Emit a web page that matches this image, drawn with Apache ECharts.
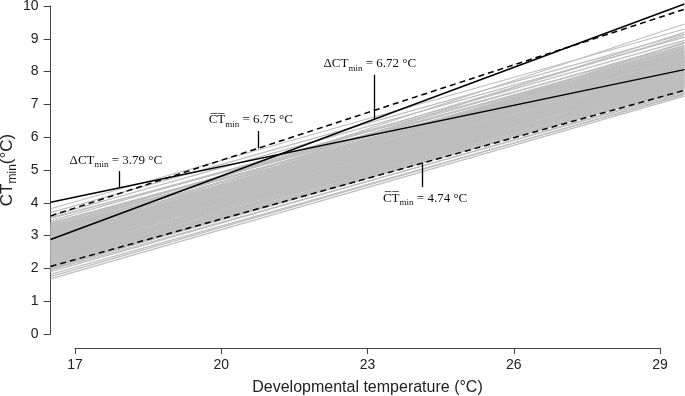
<!DOCTYPE html>
<html>
<head>
<meta charset="utf-8">
<script src="https://cdn.jsdelivr.net/npm/echarts/dist/echarts.min.js"></script>
<style>
  html, body { margin: 0; padding: 0; background: #fff; }
  #chart { width: 685px; height: 396px; }
</style>
</head>
<body>
<div id="chart"></div>
<script>
// x positions where every reaction norm is evaluated (plot edges)
const xEnds = [16.5, 29.5]

// grey lines: CTmin at left edge / right edge
const grayStart = [
  1.68, 1.75, 1.82, 1.90, 1.95, 2.00, 2.04, 2.08, 2.12, 2.15,
  2.18, 2.22, 2.25, 2.28, 2.30, 2.33, 2.36, 2.38, 2.41, 2.44,
  2.46, 2.49, 2.52, 2.54, 2.57, 2.60, 2.62, 2.65, 2.67, 2.70,
  2.72, 2.75, 2.78, 2.80, 2.83, 2.86, 2.88, 2.91, 2.94, 2.97,
  3.00, 3.03, 3.06, 3.10, 3.14, 3.18, 3.22, 3.27, 3.32, 3.38,
  3.45, 3.52, 3.60, 3.70, 3.82, 3.05, 2.95, 2.40, 2.20, 2.60,
  3.25, 2.10, 2.55, 2.75, 3.15, 2.35, 3.40, 1.98, 2.85, 3.55,
  2.02, 2.06, 2.11, 2.14, 2.19, 2.23, 2.27, 2.31, 2.34, 2.39,
  2.43, 2.47, 2.50, 2.53, 2.58, 2.61, 2.64, 2.68, 2.71, 2.74,
  2.77, 2.81, 2.84, 2.87, 2.90, 2.93, 2.96, 2.99, 3.02, 3.08,
  3.12, 3.17, 3.20, 3.24, 3.29, 3.34, 2.26, 2.48, 2.66, 2.82,
  3.01, 2.13, 2.37, 2.59, 2.79, 2.92, 3.11, 2.44, 2.69, 3.21
]
const grayEnd = [
  7.25, 7.32, 7.30, 7.40, 7.36, 7.48, 7.55, 7.45, 7.60, 7.52,
  7.66, 7.58, 7.72, 7.64, 7.80, 7.70, 7.86, 7.62, 7.92, 7.76,
  7.98, 7.84, 8.04, 7.90, 8.10, 7.95, 8.16, 8.02, 8.22, 8.08,
  8.28, 8.12, 8.34, 8.18, 8.40, 8.24, 8.46, 8.30, 8.52, 8.36,
  8.58, 8.42, 8.64, 8.48, 8.70, 8.55, 8.78, 8.62, 8.86, 8.70,
  8.95, 8.80, 9.05, 9.15, 9.30, 9.45, 9.20, 8.50, 8.30, 8.90,
  9.10, 7.95, 7.60, 7.80, 8.20, 7.42, 8.40, 7.70, 8.75, 8.60,
  7.50, 7.57, 7.53, 7.68, 7.61, 7.74, 7.67, 7.83, 7.73, 7.89,
  7.80, 7.95, 7.87, 8.00, 7.93, 8.07, 7.99, 8.13, 8.05, 8.19,
  8.11, 8.25, 8.17, 8.31, 8.22, 8.37, 8.28, 8.43, 8.34, 8.50,
  8.45, 8.60, 8.52, 8.67, 8.58, 8.74, 7.97, 8.15, 8.35, 8.56,
  8.20, 7.78, 8.05, 8.28, 8.47, 8.62, 8.33, 7.70, 7.88, 8.44
]

// highlighted lines (left edge, right edge)
const deltaLow = [4.02, 8.06]   // ΔCTmin = 3.79
const deltaHigh = [2.88, 10.06] // ΔCTmin = 6.72
const meanHigh = [3.60, 9.90]   // mean CTmin = 6.75
const meanLow = [2.06, 7.43]    // mean CTmin = 4.74

const annoValues = ['3.79', '6.72', '6.75', '4.74']

const serif = 'Liberation Serif'
const rich = {
  t: { fontFamily: serif, fontSize: 13, color: '#111', lineHeight: 18 },
  s: { fontFamily: serif, fontSize: 9, color: '#111', lineHeight: 18, verticalAlign: 'bottom' }
}
const OVER_CT = 'C\u0305T\u0305'

function pts(arr) {
  return [[xEnds[0], arr[0]], [xEnds[1], arr[1]]]
}
function lineAt(arr, x) {
  return arr[0] + (arr[1] - arr[0]) * (x - xEnds[0]) / (xEnds[1] - xEnds[0])
}
function leader(arr, x, len, text, padding) {
  const y0 = lineAt(arr, x)
  return {
    silent: true,
    symbol: 'none',
    animation: false,
    lineStyle: { color: '#000', width: 1.3, type: 'solid' },
    emphasis: { disabled: true },
    label: {
      show: true,
      position: 'end',
      distance: 2,
      padding: padding,
      formatter: text,
      rich: rich
    },
    data: [[{ coord: [x, y0] }, { coord: [x, y0 + len] }]]
  }
}

const series = []
for (let i = 0; i < grayStart.length; i++) {
  series.push({
    type: 'line',
    data: pts([grayStart[i], grayEnd[i]]),
    symbol: 'none',
    silent: true,
    animation: false,
    lineStyle: { color: '#bebebe', width: 1.2 }
  })
}

const blackLine = { type: 'line', symbol: 'none', silent: true, animation: false, clip: false }

series.push(Object.assign({}, blackLine, {
  data: pts(meanHigh),
  lineStyle: { color: '#000', width: 1.5, type: [6, 4] },
  markLine: leader(meanHigh, 20.75, 0.53,
    '{t|' + OVER_CT + '}{s|min}{t| = ' + annoValues[2] + ' °C}', [0, 14, 0, 0])
}))
series.push(Object.assign({}, blackLine, {
  data: pts(meanLow),
  lineStyle: { color: '#000', width: 1.5, type: [6, 4] },
  markLine: leader(meanLow, 24.12, -0.73,
    '{t|' + OVER_CT + '}{s|min}{t| = ' + annoValues[3] + ' °C}', [0, 0, 0, 6])
}))
series.push(Object.assign({}, blackLine, {
  data: pts(deltaLow),
  lineStyle: { color: '#000', width: 1.5 },
  markLine: leader(deltaLow, 17.9, 0.51,
    '{t|ΔCT}{s|min}{t| = ' + annoValues[0] + ' °C}', [0, 6, 0, 0])
}))
series.push(Object.assign({}, blackLine, {
  data: pts(deltaHigh),
  lineStyle: { color: '#000', width: 1.5 },
  markLine: leader(deltaHigh, 23.13, 1.36,
    '{t|ΔCT}{s|min}{t| = ' + annoValues[1] + ' °C}', [0, 8, 0, 0])
}))

const axisColor = '#444'
const labelFont = { fontFamily: 'Liberation Sans', fontSize: 14, color: '#222' }

const chart = echarts.init(document.getElementById('chart'), null, { renderer: 'canvas' })
chart.setOption({
  animation: false,
  backgroundColor: '#fff',
  grid: [
    { left: 50.6, right: 0.6, top: 6, height: 328, outerBoundsMode: 'none' },
    { left: 75, right: 25, top: 340, height: 8, outerBoundsMode: 'none' }
  ],
  xAxis: [
    { type: 'value', gridIndex: 0, min: xEnds[0], max: xEnds[1], show: false },
    {
      type: 'value', gridIndex: 1, min: 17, max: 29, interval: 3,
      axisLine: { show: true, lineStyle: { color: axisColor, width: 1 } },
      axisTick: { show: true, length: 6, lineStyle: { color: axisColor } },
      axisLabel: Object.assign({ margin: 10 }, labelFont),
      splitLine: { show: false },
      name: 'Developmental temperature (°C)',
      nameLocation: 'middle',
      nameGap: 32,
      nameMoveOverlap: false,
      nameTextStyle: { fontFamily: 'Liberation Sans', fontSize: 16, color: '#222' }
    }
  ],
  yAxis: [
    {
      type: 'value', gridIndex: 0, min: 0, max: 10, interval: 1,
      axisLine: { show: true, lineStyle: { color: axisColor, width: 1 } },
      axisTick: { show: true, length: 7, lineStyle: { color: axisColor } },
      axisLabel: Object.assign({ margin: 12 }, labelFont),
      splitLine: { show: false },
      name: '{a|CT}{b|min}{a|(°C)}',
      nameLocation: 'middle',
      nameRotate: 90,
      nameGap: 32,
      nameMoveOverlap: false,
      nameTextStyle: {
        rich: {
          a: { fontFamily: 'Liberation Sans', fontSize: 17, color: '#222', lineHeight: 22 },
          b: { fontFamily: 'Liberation Sans', fontSize: 12, color: '#222', lineHeight: 22, verticalAlign: 'bottom' }
        }
      }
    },
    { type: 'value', gridIndex: 1, show: false, min: 0, max: 1 }
  ],
  series: series
})
</script>
</body>
</html>
